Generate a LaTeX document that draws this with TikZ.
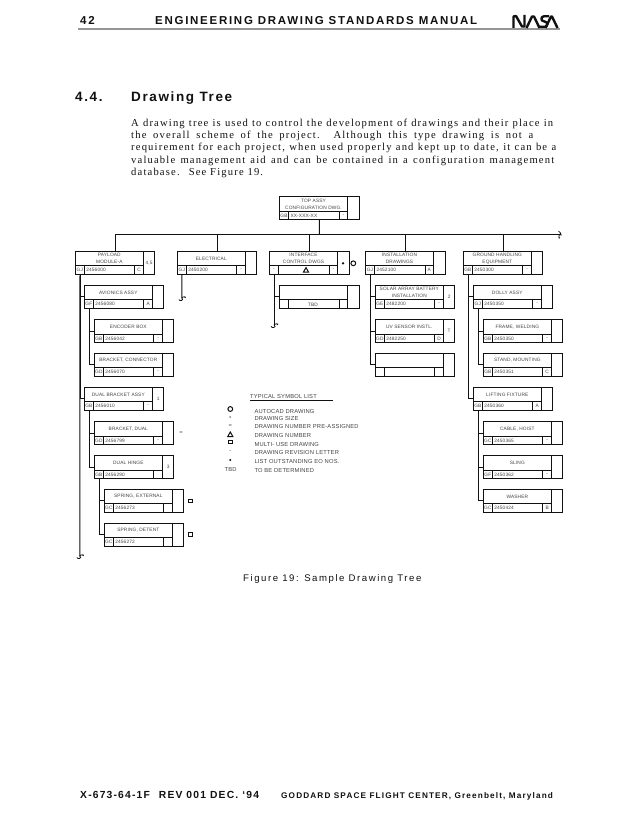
\documentclass[tikz,border=0pt]{standalone}
\usepackage{fontspec}
\setmainfont{Liberation Sans}
\newfontfamily\boxf[LetterSpace=3]{Liberation Sans}
\newfontfamily\bodyf[LetterSpace=11]{Liberation Serif}
\newfontfamily\headf[LetterSpace=15]{Liberation Sans}
\newfontfamily\secf[LetterSpace=12]{Liberation Sans}
\newfontfamily\capf[LetterSpace=16]{Liberation Sans}
\newfontfamily\footf[LetterSpace=11.5]{Liberation Sans}
\newfontfamily\footrf[LetterSpace=14]{Liberation Sans}
\definecolor{ink}{HTML}{111111}
\definecolor{soft}{HTML}{444444}
\tikzset{
  boxframe/.style={draw=ink,line width=1pt,inner sep=0pt,outer sep=0pt,minimum width=79.5pt,minimum height=23pt,anchor=north west},
  divider/.style={draw=ink,line width=1pt},
  conn/.style={draw=ink,line width=1pt},
  boxtext/.style={inner sep=0pt,text=soft,align=center,font=\boxf\fontsize{4.8}{6.9}\selectfont},
  codetext/.style={boxtext,anchor=west},
  legend/.style={inner sep=0pt,anchor=west,text=soft,font=\boxf\fontsize{5.8}{6.5}\selectfont},
  legsym/.style={inner sep=0pt,text=soft,font=\boxf\fontsize{5.8}{6.5}\selectfont},
  symdraw/.style={draw=ink,line width=1pt,fill=white},
  bodyline/.style={inner sep=0pt,anchor=base west,text=ink,font=\bodyf\fontsize{10.6}{12}\selectfont},
}
\newcommand\dbox[8]{%
  \node[boxframe] (#1) at (#2,#3) {};
  \draw[divider] (#2+68,#3) -- (#2+68,#3+23);
  \draw[divider] (#2,#3+14.5) -- (#2+68,#3+14.5);
  \draw[divider] (#2+9,#3+14.5) -- (#2+9,#3+23);
  \draw[divider] (#2+59.5,#3+14.5) -- (#2+59.5,#3+23);
  \node[boxtext] (#1-title) at (#2+34,#3+7.3) {#4};
  \node[boxtext] (#1-pre) at (#2+4.5,#3+18.9) {#5};
  \node[codetext] (#1-code) at (#2+10.8,#3+18.9) {#6};
  \node[boxtext] (#1-rev) at (#2+63.8,#3+18.9) {#7};
  \node[boxtext] (#1-side) at (#2+73.8,#3+11.5) {#8};
  \coordinate (#1-tr) at (#2+4.7,#3+23);
}
\begin{document}
\begin{tikzpicture}[x=1pt,y=-1pt]
\useasboundingbox (0,0) rectangle (638,826);
\fill[white] (0,0) rectangle (638,826);
% page header
\node[inner sep=0pt,anchor=base west,text=ink,font=\headf\bfseries\fontsize{11.5}{13}\selectfont] (pagenum) at (80,24.5) {42};
\node[inner sep=0pt,anchor=base west,text=ink,font=\headf\bfseries\fontsize{11.5}{13}\selectfont] (pagehead) at (155,24.5) {ENGINEERING DRAWING STANDARDS MANUAL};
\draw[color={rgb,255:red,150;green,150;blue,150},line width=2pt] (78,29.5) -- (560,29.5);
% NASA worm
\begin{scope}[line width=2.4pt,draw=ink,line join=round,line cap=butt]
\draw (513.5,28) -- (513.5,16.5) -- (516,16) -- (522,26.5) -- (524.5,26.5) -- (524.5,15);
\draw (526.5,28) -- (532,16.5) -- (534,16.5) -- (539.5,28);
\draw (539.5,26.8) -- (545,26.8) .. controls (548,26.8) and (548,21.5) .. (544.5,21.5) .. controls (540.5,21.5) and (540.5,16.3) .. (544,16.3) -- (549,16.3);
\draw (545.5,28) -- (551,16.5) -- (552,16.5) -- (557.5,28);
\end{scope}
% section head
\node[inner sep=0pt,anchor=base west,text=ink,font=\secf\bfseries\fontsize{13.5}{15}\selectfont] (secnum) at (75,102) {4.4.};
\node[inner sep=0pt,anchor=base west,text=ink,font=\secf\bfseries\fontsize{13.5}{15}\selectfont] (sectitle) at (131,102) {Drawing Tree};
% body
\node[bodyline] (b1) at (131,126.5) {\makebox[422pt][s]{A drawing tree is used to control the development of drawings and their place in}};
\node[bodyline] (b2) at (131,139) {\makebox[402pt][s]{the overall scheme of the project.  Although this type drawing is not a}};
\node[bodyline] (b3) at (131,151) {\makebox[425pt][s]{requirement for each project, when used properly and kept up to date, it can be a}};
\node[bodyline] (b4) at (131,163.3) {\makebox[423pt][s]{valuable management aid and can be contained in a configuration management}};
\node[bodyline] (b5) at (131,175.6) {database.\hspace{4pt} See Figure 19.};
% boxes
\dbox{top}{279.5}{197}{TOP ASSY\\CONFIGURATION DWG.}{GB}{XX-XXX-XX}{-}{}
\dbox{payload}{75.3}{251.3}{PAYLOAD\\MODULE-A}{GJ}{2456000}{C}{4,5}
\dbox{electrical}{177.3}{251.3}{ELECTRICAL}{GJ}{2450200}{-}{}
\dbox{interface}{269.5}{251.3}{INTERFACE\\CONTROL DWGS}{-}{}{-}{}
\dbox{install}{365.5}{251.3}{INSTALLATION\\DRAWINGS}{GJ}{2452100}{A}{}
\dbox{ground}{463.3}{251.3}{GROUND HANDLING\\EQUIPMENT}{GB}{2450300}{-}{}
\dbox{avionics}{84.3}{285.3}{AVIONICS ASSY}{GF}{2456080}{A}{}
\dbox{encoder}{94.3}{319.5}{ENCODER BOX}{GB}{2456042}{-}{}
\dbox{connector}{94.3}{353.3}{BRACKET, CONNECTOR}{GD}{2456070}{-}{}
\dbox{dualassy}{84.3}{387.3}{DUAL BRACKET ASSY}{GB}{2456010}{-}{1}
\dbox{bracketdual}{94.3}{421.5}{BRACKET, DUAL}{GD}{2456799}{-}{}
\dbox{hinge}{94.3}{455.5}{DUAL HINGE}{GB}{2456290}{}{3}
\dbox{springext}{104.3}{489.3}{SPRING, EXTERNAL}{GC}{2456273}{}{}
\dbox{springdet}{104.3}{523}{SPRING, DETENT}{GC}{2456272}{}{}
\dbox{tbdbox}{279.5}{285.3}{}{}{}{}{}
\dbox{solar}{375.3}{285.3}{SOLAR ARRAY BATTERY\\INSTALLATION}{GE}{2482200}{-}{2}
\dbox{uv}{375.3}{319.5}{UV SENSOR INSTL.}{GD}{2482250}{D}{T}
\dbox{blankthree}{375.3}{353.3}{}{}{}{}{}
\dbox{dolly}{473.3}{285.3}{DOLLY ASSY}{GJ}{2450350}{-}{}
\dbox{frame}{483.3}{319.5}{FRAME, WELDING}{GB}{2450350}{-}{}
\dbox{stand}{483.3}{353.3}{STAND, MOUNTING}{GB}{2450351}{C}{}
\dbox{lifting}{473.3}{387.3}{LIFTING FIXTURE}{GB}{2450360}{A}{}
\dbox{cable}{483.3}{421.5}{CABLE, HOIST}{GC}{2450365}{-}{}
\dbox{sling}{483.3}{455.5}{SLING}{GF}{2450362}{-}{}
\dbox{washer}{483.3}{489.3}{WASHER}{GC}{2450424}{B}{}
\node[boxtext] (tbdlabel) at (313,304.8) {TBD};
% free ends
\coordinate (busR) at (560,234.3);
\coordinate (busT) at (319.3,234.3);
\coordinate (endA) at (79.8,556);
\coordinate (endB) at (181.8,298);
\coordinate (endC) at (274.2,325);
% connectors
\draw[conn] (top.south) -- (busT);
\draw[conn] (payload.north) |- (busR);
\draw[conn] (electrical.north) -- (electrical.north |- busR);
\draw[conn] (interface.north) -- (interface.north |- busR);
\draw[conn] (install.north) -- (install.north |- busR);
\draw[conn] (ground.north) -- (ground.north |- busR);
\draw[conn] (payload-tr) -- (endA);
\draw[conn] (electrical-tr) -- (endB);
\draw[conn] (interface-tr) -- (endC);
\draw[conn] (payload-tr) |- (avionics.west);
\draw[conn] (payload-tr) |- (dualassy.west);
\draw[conn] (avionics-tr) |- (encoder.west);
\draw[conn] (avionics-tr) |- (connector.west);
\draw[conn] (dualassy-tr) |- (bracketdual.west);
\draw[conn] (dualassy-tr) |- (hinge.west);
\draw[conn] (hinge-tr) |- (springext.west);
\draw[conn] (hinge-tr) |- (springdet.west);
\draw[conn] (interface-tr) |- (tbdbox.west);
\draw[conn] (install-tr) |- (solar.west);
\draw[conn] (install-tr) |- (uv.west);
\draw[conn] (install-tr) |- (blankthree.west);
\draw[conn] (ground-tr) |- (dolly.west);
\draw[conn] (ground-tr) |- (lifting.west);
\draw[conn] (dolly-tr) |- (frame.west);
\draw[conn] (dolly-tr) |- (stand.west);
\draw[conn] (lifting-tr) |- (cable.west);
\draw[conn] (lifting-tr) |- (sling.west);
\draw[conn] (lifting-tr) |- (washer.west);
% break marks
\foreach \e in {endA,endB,endC}{
  \draw[conn,line width=0.8pt] (\e) ++(-3,1.5) .. controls +(0.6,2.2) and +(2.8,2.2) .. ++(3,-1.5) .. controls +(0.5,-1.6) and +(2,-1.6) .. ++(3.2,0);
}
\draw[conn,line width=0.8pt] (busR) ++(-1.5,-3) .. controls +(2.2,0.4) and +(2.2,2.8) .. ++(1.5,3) .. controls +(-1.5,0.5) and +(-1.5,2) .. ++(0,3.4);
% annotations on the boxes
\draw[symdraw] (303.5,272) -- (306,267.6) -- (308.5,272) -- cycle;
\fill[ink] (343,263.3) circle (1.3pt);
\node[circle,draw=ink,line width=1pt,inner sep=0pt,minimum size=4.8pt] (autocadmark) at (353.3,263.3) {};
\node[legsym] (presign) at (181,433) {=};
\node[rectangle,draw=ink,line width=1pt,inner sep=0pt,minimum width=4.4pt,minimum height=3.4pt] (multione) at (190.3,500.7) {};
\node[rectangle,draw=ink,line width=1pt,inner sep=0pt,minimum width=4.4pt,minimum height=3.4pt] (multitwo) at (190.3,534.3) {};
% legend
\node[legend] (ltitle) at (250,396.7) {TYPICAL SYMBOL LIST};
\draw[conn] (ltitle.west |- 0,400.2) -- (333,400.2);
\node[legend] (l1) at (254.3,411) {AUTOCAD DRAWING};
\node[legend] (l2) at (254.3,419) {DRAWING SIZE};
\node[legend] (l3) at (254.3,427) {DRAWING NUMBER PRE-ASSIGNED};
\node[legend] (l4) at (254.3,435.7) {DRAWING NUMBER};
\node[legend] (l5) at (254.3,444) {MULTI- USE DRAWING};
\node[legend] (l6) at (254.3,452.3) {DRAWING REVISION LETTER};
\node[legend] (l7) at (254.3,461) {LIST OUTSTANDING EO NOS.};
\node[legend] (l8) at (254.3,470) {TO BE DETERMINED};
\node[circle,draw=ink,line width=1pt,inner sep=0pt,minimum size=4.8pt] (s1) at (230.3,409) {};
\node[legsym] (s2) at (230.3,418.5) {*};
\node[legsym] (s3) at (230.3,426) {=};
\draw[symdraw] (227.8,436.5) -- (230.3,432) -- (232.8,436.5) -- cycle;
\node[rectangle,draw=ink,line width=1pt,inner sep=0pt,minimum width=4.4pt,minimum height=3.4pt] (s5) at (230.3,442) {};
\node[legsym] (s6) at (230.3,452) {-};
\fill[ink] (230.3,460) circle (1.1pt);
\node[legsym] (s8) at (230.6,470) {TBD};
% caption and footer
\node[inner sep=0pt,anchor=base west,text=ink,font=\capf\fontsize{9.6}{11}\selectfont] (caption) at (243,581.5) {Figure 19: Sample Drawing Tree};
\node[inner sep=0pt,anchor=base west,text=ink,font=\footf\bfseries\fontsize{10.3}{12}\selectfont] (footl) at (80,798) {X-673-64-1F\hspace{5pt} REV 001 DEC. ‘94};
\node[inner sep=0pt,anchor=base west,text=ink,font=\footrf\bfseries\fontsize{8.2}{10}\selectfont] (footr) at (281,798) {GODDARD SPACE FLIGHT CENTER, Greenbelt, Maryland};
\end{tikzpicture}
\end{document}
